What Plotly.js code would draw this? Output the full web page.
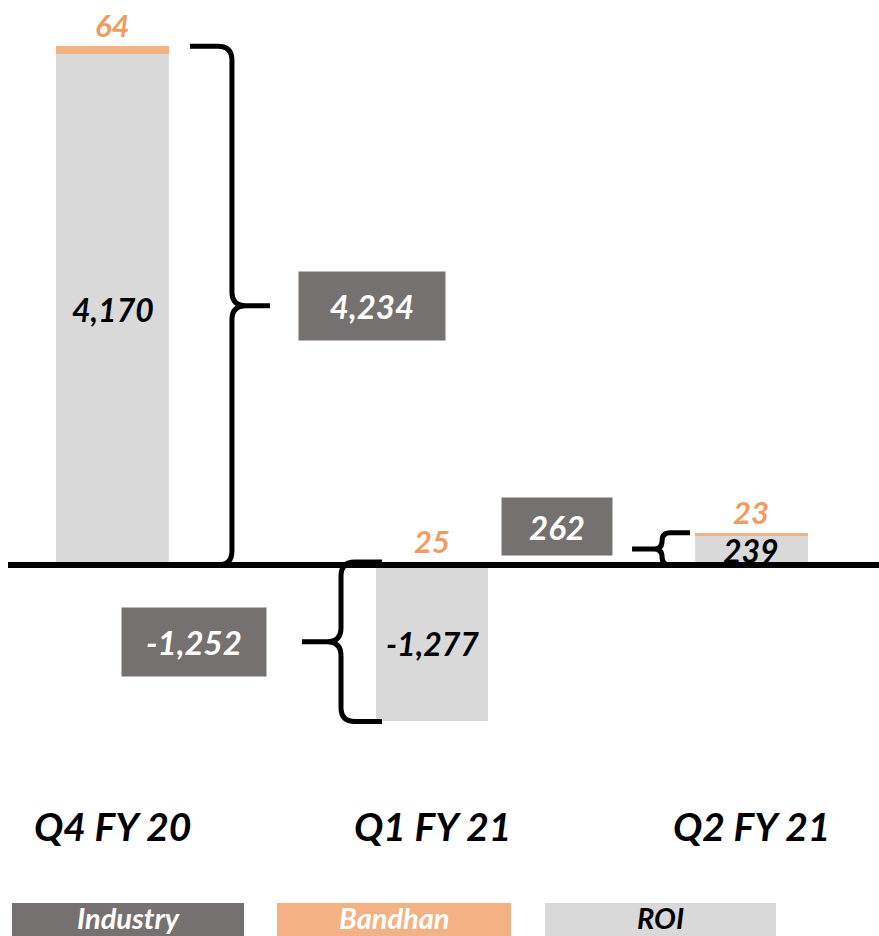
<!DOCTYPE html>
<html>
<head>
<meta charset="utf-8">
<script src="https://cdn.plot.ly/plotly-3.0.1.min.js"></script>
<style>
  html, body { margin: 0; padding: 0; background: #ffffff; }
  #chart { width: 879px; height: 936px; }
</style>
</head>
<body>
<div id="chart"></div>
<script>
// Quarterly flows: ROI + Bandhan = Industry
const categories = ['Q4 FY 20', 'Q1 FY 21', 'Q2 FY 21'];
const roi        = [4170, -1277, 239];
const bandhan    = [64, 25, 23];
const industry   = [4234, -1252, 262];
const legendNames = ['Industry', 'Bandhan', 'ROI'];

// ---- styling / layout constants ----
const W = 879, H = 936;
const COLORS = { industry: '#767171', bandhan: '#F4B183', roi: '#D9D9D9' };
const LEGEND_FILL = [COLORS.industry, COLORS.bandhan, COLORS.roi];
const LEGEND_TEXT = ['#ffffff', '#ffffff', '#000000'];
const X_RANGE = [-0.354, 2.401];
const Y_RANGE = [-3029, 4612];
const BAR_WIDTH = 0.354;
const pxPerX = W / (X_RANGE[1] - X_RANGE[0]);
const pxPerY = H / (Y_RANGE[1] - Y_RANGE[0]);
// pixel position (from the top-left) -> axis value, for free-standing labels
const rowY = px => Y_RANGE[1] - px / pxPerY;
const colX = px => X_RANGE[0] + px / pxPerX;

// brace geometry per quarter, in pixels relative to the bar centre
const BRACE = [
  { hook: 77,  spine: 119, tip: 157, box: 259,  boxW: 146, boxH: 68, yshift: 0 },
  { hook: -50, spine: -91, tip: -130, box: -238, boxW: 144, boxH: 68, yshift: 0 },
  { hook: -61, spine: -89, tip: -119, box: -194, boxW: 110, boxH: 57, yshift: 22 }
];

const FAMILY = 'Lato, Open Sans, sans-serif';
const bold = (size, color) => ({ family: FAMILY, size: size, color: color, weight: 700, style: 'italic' });
const fmt = v => v.toLocaleString('en-US');

const traces = [
  {
    type: 'bar', name: 'ROI', x: [0, 1, 2], y: roi, width: BAR_WIDTH,
    marker: { color: COLORS.roi, line: { width: 0 } }, hoverinfo: 'skip'
  },
  {
    type: 'bar', name: 'Bandhan', x: [0, 1, 2], y: bandhan, width: BAR_WIDTH,
    marker: { color: COLORS.bandhan, line: { width: 0 } }, hoverinfo: 'skip'
  }
];

const shapes = [];
const annotations = [];

// zero baseline
shapes.push({
  type: 'line', xref: 'paper', yref: 'y', x0: 8 / W, x1: 1, y0: 0, y1: 0,
  line: { color: '#000000', width: 6 }, layer: 'above'
});

categories.forEach((cat, i) => {
  const posTop = Math.max(0, roi[i]) + bandhan[i];
  const negBottom = Math.min(0, roi[i]);
  const mid = (posTop + negBottom) / 2;
  const b = BRACE[i];
  const d = Math.sign(b.tip - b.spine);

  // curly brace spanning the stack
  const spanPx = (posTop - negBottom) * pxPerY;
  const r = Math.min(14, spanPx / 4);
  const X = off => i + off / pxPerX;
  const Y = (v, dy) => v + dy / pxPerY;
  const path = [
    `M ${X(b.hook)},${Y(posTop, 0)}`,
    `L ${X(b.spine - d * r)},${Y(posTop, 0)}`,
    `Q ${X(b.spine)},${Y(posTop, 0)} ${X(b.spine)},${Y(posTop, -r)}`,
    `L ${X(b.spine)},${Y(mid, r)}`,
    `Q ${X(b.spine)},${Y(mid, 0)} ${X(b.spine + d * r)},${Y(mid, 0)}`,
    `L ${X(b.tip)},${Y(mid, 0)}`,
    `M ${X(b.spine + d * r)},${Y(mid, 0)}`,
    `Q ${X(b.spine)},${Y(mid, 0)} ${X(b.spine)},${Y(mid, -r)}`,
    `L ${X(b.spine)},${Y(negBottom, r)}`,
    `Q ${X(b.spine)},${Y(negBottom, 0)} ${X(b.spine - d * r)},${Y(negBottom, 0)}`,
    `L ${X(b.hook)},${Y(negBottom, 0)}`
  ].join(' ');
  shapes.push({
    type: 'path', xref: 'x', yref: 'y', path: path,
    line: { color: '#000000', width: 5 }, layer: 'above'
  });

  // industry total box at the brace tip
  annotations.push({
    x: X(b.box), y: mid, xref: 'x', yref: 'y', yshift: b.yshift,
    text: fmt(industry[i]), showarrow: false,
    width: b.boxW, height: b.boxH, borderpad: 0, valign: 'middle',
    bgcolor: COLORS.industry, font: bold(33, '#ffffff')
  });

  // ROI value inside the grey segment
  annotations.push({
    x: i, y: roi[i] / 2, xref: 'x', yref: 'y', text: fmt(roi[i]),
    showarrow: false, font: bold(32, '#000000')
  });

  // Bandhan value just above the positive stack
  annotations.push({
    x: i, y: posTop, xref: 'x', yref: 'y', yanchor: 'bottom', yshift: 1,
    text: fmt(bandhan[i]), showarrow: false, borderpad: 0,
    font: bold(31, '#EE9D62')
  });

  // quarter label
  annotations.push({
    x: i, y: rowY(826), xref: 'x', yref: 'y', text: cat,
    showarrow: false, font: bold(39, '#000000')
  });
});

// legend strip along the bottom
const LEGEND_X = [[12, 244], [277, 511], [545, 776]];
legendNames.forEach((name, k) => {
  shapes.push({
    type: 'rect', xref: 'paper', yref: 'paper',
    x0: LEGEND_X[k][0] / W, x1: LEGEND_X[k][1] / W, y0: -0.02, y1: 1 - 903 / H,
    fillcolor: LEGEND_FILL[k], line: { width: 0 }, layer: 'below'
  });
  annotations.push({
    x: colX((LEGEND_X[k][0] + LEGEND_X[k][1]) / 2),
    y: rowY(917), xref: 'x', yref: 'y', text: name, showarrow: false,
    font: bold(29, LEGEND_TEXT[k])
  });
});

const layout = {
  width: W, height: H,
  margin: { l: 0, r: 0, t: 0, b: 0, pad: 0 },
  paper_bgcolor: '#ffffff', plot_bgcolor: '#ffffff',
  barmode: 'relative', bargap: 0,
  showlegend: false, hovermode: false,
  xaxis: { range: X_RANGE, visible: false, fixedrange: true },
  yaxis: { range: Y_RANGE, visible: false, fixedrange: true, zeroline: false },
  shapes: shapes, annotations: annotations
};

Plotly.newPlot('chart', traces, layout, { displayModeBar: false, staticPlot: true });
</script>
</body>
</html>
